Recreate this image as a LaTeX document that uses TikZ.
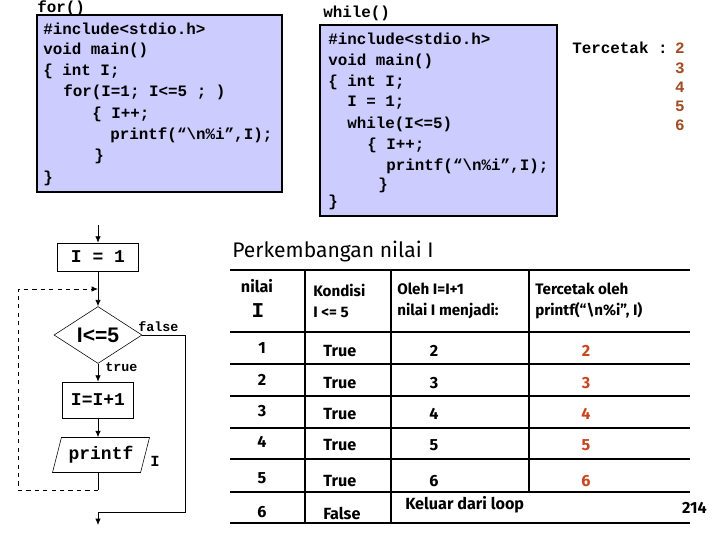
\documentclass[tikz,border=0pt]{standalone}
\usepackage{fontspec}
\usepackage{tikz}
\usetikzlibrary{arrows.meta,positioning,shapes.geometric}
\newfontfamily\codefont{Liberation Mono}
\newfontfamily\flowsans{Liberation Sans}
\newfontfamily\tblfont{Fira Sans}
\definecolor{Lavender}{HTML}{CCCCFF}
\definecolor{Rust}{HTML}{C8461E}
\definecolor{Brick}{HTML}{A24A22}

\begin{document}
\begin{tikzpicture}[x=0.025cm,y=-0.025cm,
    code/.style={anchor=west,inner sep=0pt,font=\codefont\bfseries\fontsize{11.3}{13}\selectfont},
    listing/.style={draw=black,fill=Lavender,line width=0.8pt},
    flowbox/.style={draw,rectangle,inner sep=0pt,font=\codefont\bfseries\fontsize{12.8}{14}\selectfont},
    flowlabel/.style={inner sep=0pt,font=\codefont\bfseries\fontsize{9.5}{11}\selectfont},
    flow/.style={line width=0.6pt},
    arr/.style={flow,-{Latex[length=1.6mm,width=1.4mm]}},
    loopback/.style={arr,dashed},
    head/.style={anchor=west,inner sep=0pt,font=\tblfont\bfseries\fontsize{10.8}{15}\selectfont,align=left},
    cell/.style={inner sep=0pt,font=\tblfont\bfseries\fontsize{11.5}{13}\selectfont},
    grid/.style={line width=0.8pt}]
  \useasboundingbox (0,0) rectangle (720,540);

  % for() listing
  \node[code] (fortitle) at (37,8) {for()};
  \draw[listing] (37,15) rectangle (282,192);
  \node[code] (f1) at (43,29) {\#include<stdio.h>};
  \node[code] (f2) at (43,50) {void main()};
  \node[code] (f3) at (43,71) {\{ int I;};
  \node[code] (f4) at (63,92) {for(I=1; I<=5 ; )};
  \node[code] (f5) at (92,114) {\{ I++;};
  \node[code] (f6) at (110,135) {printf(“\textbackslash n\%i”,I);};
  \node[code] (f7) at (94,156) {\}};
  \node[code] (f8) at (43,178) {\}};

  % while() listing
  \node[code] (whtitle) at (323,13) {while()};
  \draw[listing] (320,25) rectangle (557,216);
  \node[code] (w1) at (328,39) {\#include<stdio.h>};
  \node[code] (w2) at (328,61) {void main()};
  \node[code] (w3) at (328,82) {\{ int I;};
  \node[code] (w4) at (347,103) {I = 1;};
  \node[code] (w5) at (347,124) {while(I<=5)};
  \node[code] (w6) at (367,145) {\{ I++;};
  \node[code] (w7) at (386,166) {printf(“\textbackslash n\%i”,I);};
  \node[code] (w8) at (378,185) {\}};
  \node[code] (w9) at (328,202) {\}};

  % output
  \node[code] (printed) at (572,48) {Tercetak :};
  \foreach \v/\y in {2/48,3/68,4/87,5/106,6/125}
    \node[inner sep=0pt,text=Brick,font=\codefont\bfseries\fontsize{11.3}{13}\selectfont]
      (out\v) at (680,\y) {\v};

  % flowchart
  \coordinate (start) at (98,225);
  \node[flowbox,minimum width=2.025cm,minimum height=0.7cm] (init) at (98,257) {I = 1};
  \coordinate (join) at (98,289);
  \node[diamond,draw,inner sep=0pt,minimum width=2.2cm,minimum height=1.35cm,
        font=\flowsans\bfseries\fontsize{15}{17}\selectfont] (cond) at (98,335) {I<=5};
  \node[flowbox,minimum width=1.775cm,minimum height=0.9cm] (incr) at (98,400) {I=I+1};
  \node[trapezium,draw,inner sep=0pt,trapezium stretches=true,
        trapezium left angle=66.8,trapezium right angle=113.2,
        minimum width=2.425cm,minimum height=0.875cm,
        font=\codefont\bfseries\fontsize{12.8}{14}\selectfont] (pf) at (101,455) {printf};
  \node[flowlabel,font=\codefont\bfseries\fontsize{11}{13}\selectfont] (pfarg) at (155,461) {I};
  \coordinate (back) at (98,490);
  \coordinate (loopc) at (18,490);
  \coordinate (fright) at (185,335);
  \coordinate (fdown) at (185,512);
  \coordinate (exitj) at (98,512);
  \coordinate (finish) at (98,525);

  \draw[arr] (start) -- (init);
  \draw[flow] (init) -- (join);
  \draw[arr] (join) -- (cond);
  \draw[arr] (cond) -- (incr);
  \draw[arr] (incr) -- (pf.north -| incr);
  \draw[flow] (pf.south -| incr) -- (back);
  \draw[loopback] (back) -- (loopc) |- (join);
  \draw[flow] (cond.east) -- (fright) -- (fdown) -- (exitj);
  \draw[arr] (exitj) -- (finish);
  \node[flowlabel,anchor=south west] (falselbl) at (138,332) {false};
  \node[flowlabel,anchor=west] (truelbl) at (105,367) {true};

  % table
  \node[anchor=west,inner sep=0pt,font=\tblfont\fontsize{15}{17}\selectfont] (ttitle) at (232,252)
        {Perkembangan nilai I};
  \foreach \y in {270,332,364,396,428,459,492,523}
    \draw[grid] (230,\y) -- (690,\y);
  \draw[grid] (305,270) -- (305,523);
  \draw[grid] (391,270) -- (391,523);
  \draw[grid] (529,270) -- (529,492);

  \node[inner sep=0pt,font=\tblfont\bfseries\fontsize{11.5}{13}\selectfont] (hval) at (257,286) {nilai};
  \node[inner sep=0pt,font=\codefont\bfseries\fontsize{15}{17}\selectfont] (hvar) at (258,311) {I};
  \node[head] (hcond) at (313,301) {Kondisi\\I <= 5};
  \node[head] (hnext) at (397,301) {Oleh I=I+1\\nilai I menjadi:};
  \node[head] (hprint) at (535,301) {Tercetak oleh\\printf(“\textbackslash n\%i”, I)};

  \foreach \v/\n/\y in {1/2/348,2/3/380,3/4/411,4/5/442,5/6/478}{
    \node[cell] (val\v) at (262,\y) {\v};
    \node[cell,anchor=west] (cnd\v) at (323,\y+3) {True};
    \node[cell] (nxt\v) at (434,\y+3) {\n};
    \node[cell,text=Rust] (prt\v) at (586,\y+3) {\n};
  }
  \node[cell] (val6) at (262,512) {6};
  \node[cell,anchor=west] (cnd6) at (323,513) {False};
  \node[cell,anchor=west] (exitlbl) at (405,505) {Keluar dari loop};
  \node[cell,anchor=east] (pagenum) at (707,508) {214};
\end{tikzpicture}
\end{document}
